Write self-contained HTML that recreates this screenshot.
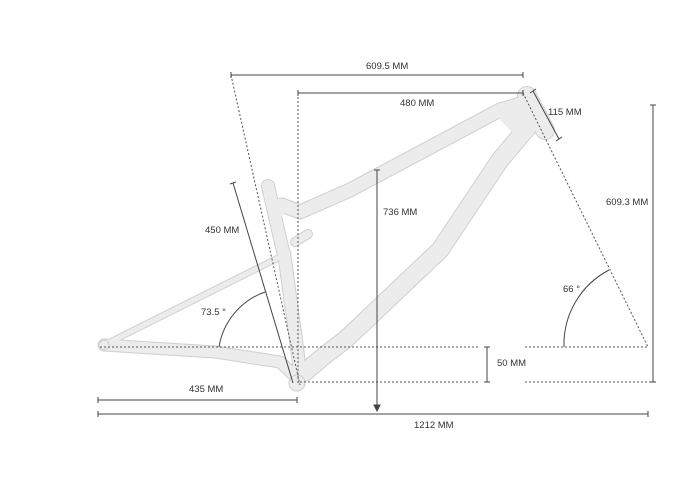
<!DOCTYPE html>
<html><head><meta charset="utf-8"><style>
html,body{margin:0;padding:0;background:#fff;}
svg{display:block;}
text{font-family:"Liberation Sans",sans-serif;font-size:9.5px;fill:#333;}
</style></head><body>
<svg width="700" height="491" viewBox="0 0 700 491" xmlns="http://www.w3.org/2000/svg">
<g stroke="#cfcfcf" fill="none" stroke-linecap="round" stroke-linejoin="round">
<path d="M104,345 L288,253" stroke-width="7"/>
<path d="M104,345 L215,352 L280,362 L297,378" stroke-width="13"/>
<path d="M268,186 L285,260 L296,340 L300,372" stroke-width="14"/>
<path d="M282,205 L300,212 L350,190 L500,110 L520,104" stroke-width="15"/>
<path d="M527,128 L500,160 L440,250 L345,340 L325,355 L305,372" stroke-width="19"/>
<path d="M527,96 L545,130" stroke-width="20"/>
<path d="M295,242 L308,234" stroke-width="10"/>
</g>
<g stroke="#ececec" fill="none" stroke-linecap="round" stroke-linejoin="round">
<path d="M104,345 L288,253" stroke-width="5"/>
<path d="M104,345 L215,352 L280,362 L297,378" stroke-width="11"/>
<path d="M268,186 L285,260 L296,340 L300,372" stroke-width="12"/>
<path d="M282,205 L300,212 L350,190 L500,110 L520,104" stroke-width="13"/>
<path d="M527,128 L500,160 L440,250 L345,340 L325,355 L305,372" stroke-width="17"/>
<path d="M527,96 L545,130" stroke-width="18"/>
<path d="M295,242 L308,234" stroke-width="8"/>
</g>
<g fill="#ececec" stroke="#cfcfcf">
<circle cx="297" cy="383" r="8"/>
<circle cx="104" cy="345" r="5"/>
<path d="M500,104 L525,96 L535,125 L520,140 L500,120 Z" stroke="none"/>
<path d="M272,195 L290,208 L278,220 Z" stroke="none"/>
</g>
<g stroke="#444" stroke-width="1" fill="none">
<g stroke-dasharray="2,2" stroke="#555">
<line x1="231" y1="75" x2="300" y2="385"/>
<line x1="298" y1="93" x2="298" y2="385"/>
<line x1="523" y1="93" x2="648" y2="347"/>
<line x1="100" y1="347" x2="480" y2="347"/>
<line x1="525" y1="347" x2="648" y2="347"/>
<line x1="300" y1="382" x2="480" y2="382"/>
<line x1="525" y1="382" x2="653" y2="382"/>
</g>
<line x1="231" y1="75" x2="523" y2="75"/><line x1="231" y1="72" x2="231" y2="78"/><line x1="523" y1="72" x2="523" y2="78"/>
<line x1="298" y1="93" x2="523" y2="93"/><line x1="298" y1="90" x2="298" y2="96"/><line x1="523" y1="90" x2="523" y2="96"/>
<line x1="533" y1="91" x2="559" y2="139"/><line x1="530" y1="93" x2="536" y2="89"/><line x1="556" y1="141" x2="562" y2="137"/>
<line x1="653" y1="105" x2="653" y2="382"/><line x1="650" y1="105" x2="656" y2="105"/><line x1="650" y1="382" x2="656" y2="382"/>
<path d="M564,347 A84,84 0 0 1 609,270"/>
<line x1="487" y1="347" x2="487" y2="382"/><line x1="484" y1="347" x2="490" y2="347"/><line x1="484" y1="382" x2="490" y2="382"/>
<line x1="377" y1="170" x2="377" y2="408"/><line x1="374" y1="170" x2="380" y2="170"/>
<path d="M374,405 L377,411 L380,405 Z" fill="#444"/>
<line x1="233" y1="183" x2="293" y2="383"/><line x1="230" y1="184" x2="236" y2="182"/>
<path d="M219,347 A70,70 0 0 1 265,292"/>
<line x1="98" y1="400" x2="297" y2="400"/><line x1="98" y1="397" x2="98" y2="403"/><line x1="297" y1="397" x2="297" y2="403"/>
<line x1="98" y1="414" x2="648" y2="414"/><line x1="98" y1="411" x2="98" y2="417"/><line x1="648" y1="411" x2="648" y2="417"/>
</g>
<text x="366" y="69">609.5 MM</text>
<text x="400" y="106">480 MM</text>
<text x="548" y="115">115 MM</text>
<text x="606" y="205">609.3 MM</text>
<text x="563" y="292">66 °</text>
<text x="497" y="366">50 MM</text>
<text x="383" y="215">736 MM</text>
<text x="205" y="233">450 MM</text>
<text x="201" y="315">73.5 °</text>
<text x="189" y="392">435 MM</text>
<text x="414" y="428">1212 MM</text>
</svg>
</body></html>
